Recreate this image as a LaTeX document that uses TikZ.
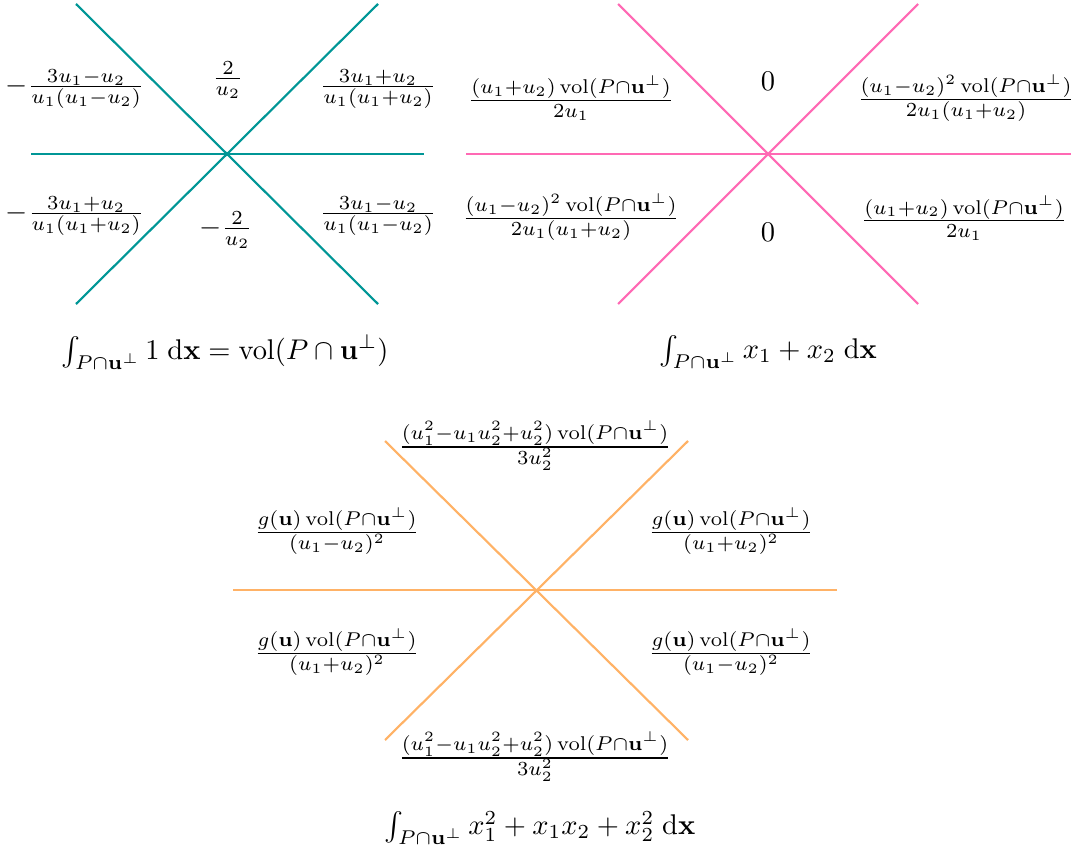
\documentclass[tikz,border=0pt]{standalone}
\usepackage{amsmath}
\definecolor{tealc}{RGB}{0,150,150}
\definecolor{pinkc}{RGB}{255,105,180}
\definecolor{orangec}{RGB}{255,178,102}
\newcommand{\vp}{\operatorname{vol}(P\cap\mathbf{u}^\perp)}
\begin{document}
\begin{tikzpicture}[x=0.351pt,y=-0.351pt,
  axisline/.style={line width=0.75pt},
  lab/.style={inner sep=0pt, font=\normalsize}]
\useasboundingbox (0,0) rectangle (1080,858);
% ---------- top left ----------
\coordinate (A) at (227,154);
\coordinate (Al) at (31,154); \coordinate (Ar) at (424,154);
\coordinate (Atl) at (76,4); \coordinate (Abr) at (378,304);
\coordinate (Atr) at (378,4); \coordinate (Abl) at (76,304);
\draw[axisline,tealc] (Al) -- (Ar);
\draw[axisline,tealc] (Atl) -- (Abr);
\draw[axisline,tealc] (Atr) -- (Abl);
\node[lab] (a1) at (75,89) {$-\frac{3u_1-u_2}{u_1(u_1-u_2)}$};
\node[lab] (a2) at (228,80) {$\frac{2}{u_2}$};
\node[lab] (a3) at (378,89) {$\frac{3u_1+u_2}{u_1(u_1+u_2)}$};
\node[lab] (a4) at (75,216) {$-\frac{3u_1+u_2}{u_1(u_1+u_2)}$};
\node[lab] (a5) at (226,230) {$-\frac{2}{u_2}$};
\node[lab] (a6) at (378,216) {$\frac{3u_1-u_2}{u_1(u_1-u_2)}$};
\node[lab] (ca) at (225,352) {$\int_{P\cap\mathbf{u}^\perp} 1\;\mathrm{d}\mathbf{x}=\operatorname{vol}(P\cap\mathbf{u}^\perp)$};
% ---------- top right ----------
\coordinate (B) at (768,154);
\coordinate (Bl) at (466,154); \coordinate (Br) at (1071,154);
\coordinate (Btl) at (618,4); \coordinate (Bbr) at (918,304);
\coordinate (Btr) at (918,4); \coordinate (Bbl) at (618,304);
\draw[axisline,pinkc] (Bl) -- (Br);
\draw[axisline,pinkc] (Btl) -- (Bbr);
\draw[axisline,pinkc] (Btr) -- (Bbl);
\node[lab] (b1) at (571,98) {$\frac{(u_1+u_2)\vp}{2u_1}$};
\node[lab] (b2) at (768,81) {$0$};
\node[lab] (b3) at (966,98) {$\frac{(u_1-u_2)^2\vp}{2u_1(u_1+u_2)}$};
\node[lab] (b4) at (571,217) {$\frac{(u_1-u_2)^2\vp}{2u_1(u_1+u_2)}$};
\node[lab] (b5) at (768,232) {$0$};
\node[lab] (b6) at (964,218) {$\frac{(u_1+u_2)\vp}{2u_1}$};
\node[lab] (cb) at (768,352) {$\int_{P\cap\mathbf{u}^\perp} x_1+x_2\;\mathrm{d}\mathbf{x}$};
% ---------- bottom ----------
\coordinate (C) at (536,590);
\coordinate (Cl) at (233,590); \coordinate (Cr) at (837,590);
\coordinate (Ctl) at (385,441); \coordinate (Cbr) at (688,740);
\coordinate (Ctr) at (688,441); \coordinate (Cbl) at (385,740);
\draw[axisline,orangec] (Cl) -- (Cr);
\draw[axisline,orangec] (Ctl) -- (Cbr);
\draw[axisline,orangec] (Ctr) -- (Cbl);
\node[lab] (c1) at (535,446) {$\frac{(u_1^2-u_1u_2^2+u_2^2)\vp}{3u_2^2}$};
\node[lab] (c2) at (337,531) {$\frac{g(\mathbf{u})\vp}{(u_1-u_2)^2}$};
\node[lab] (c3) at (731,531) {$\frac{g(\mathbf{u})\vp}{(u_1+u_2)^2}$};
\node[lab] (c4) at (337,652) {$\frac{g(\mathbf{u})\vp}{(u_1+u_2)^2}$};
\node[lab] (c5) at (731,652) {$\frac{g(\mathbf{u})\vp}{(u_1-u_2)^2}$};
\node[lab] (c6) at (535,757) {$\frac{(u_1^2-u_1u_2^2+u_2^2)\vp}{3u_2^2}$};
\node[lab] (cc) at (540,828) {$\int_{P\cap\mathbf{u}^\perp} x_1^2+x_1x_2+x_2^2\;\mathrm{d}\mathbf{x}$};
\end{tikzpicture}
\end{document}
